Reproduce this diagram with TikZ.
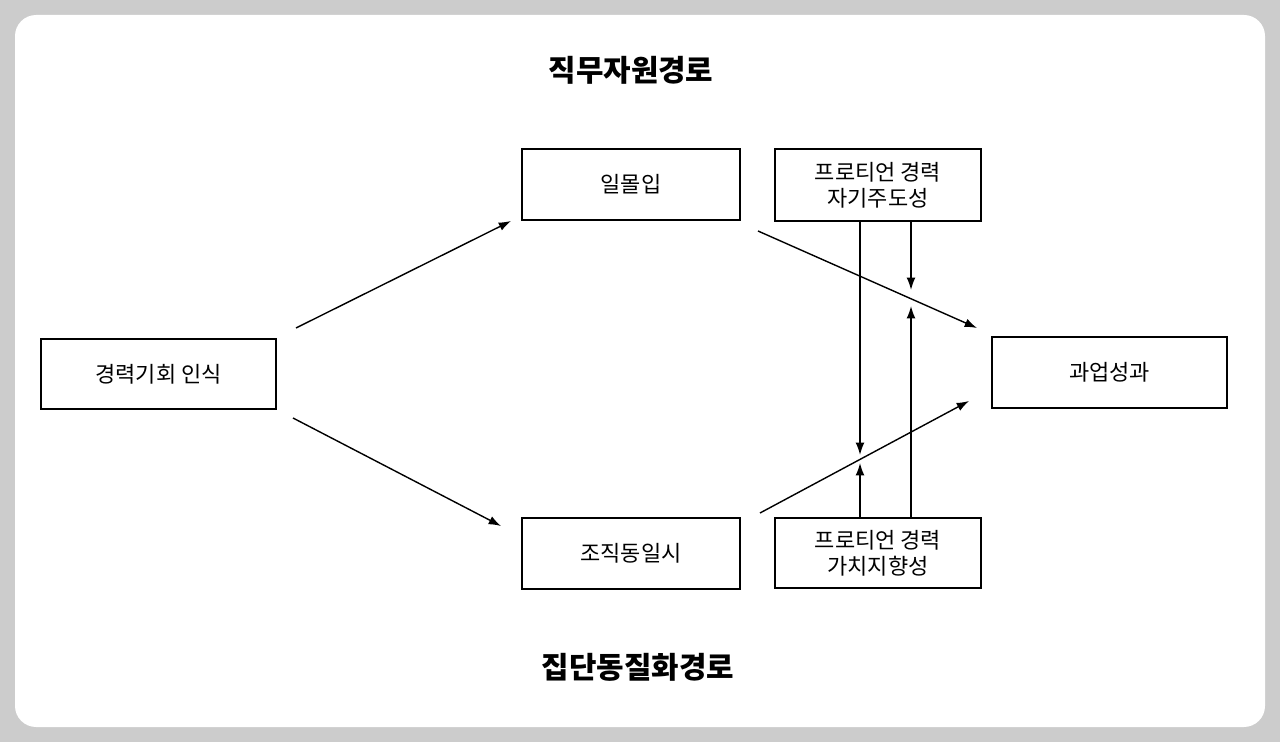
\documentclass[tikz,border=0pt]{standalone}
\usepackage{fontspec}
\setmainfont{Noto Sans CJK KR}
\usetikzlibrary{arrows.meta}
\begin{document}
\begin{tikzpicture}[x=0.02cm,y=-0.02cm,
    box/.style={draw,line width=1pt,inner sep=0pt,align=center,font=\fontsize{12.5}{15}\selectfont},
    arr/.style={-{Latex[length=7pt,width=5pt]},line width=0.8pt},
    title/.style={font=\fontsize{17}{20}\selectfont\bfseries}]
    \fill[black!20] (0,0) rectangle (1280,742);
    \fill[white,rounded corners=12pt] (15,15) rectangle (1265,727);
    % boxes
    \node[box,minimum width=235*0.02cm,minimum height=70*0.02cm] (career) at (158.5,374) {경력기회 인식};
    \node[box,minimum width=218*0.02cm,minimum height=71*0.02cm] (work) at (631,184.5) {일몰입};
    \node[box,minimum width=218*0.02cm,minimum height=71*0.02cm] (org) at (631,553.5) {조직동일시};
    \node[box,minimum width=206*0.02cm,minimum height=72*0.02cm] (self) at (878,185) {프로티언 경력\\자기주도성};
    \node[box,minimum width=206*0.02cm,minimum height=70*0.02cm] (value) at (878,553) {프로티언 경력\\가치지향성};
    \node[box,minimum width=235*0.02cm,minimum height=71*0.02cm] (perf) at (1109.5,372.5) {과업성과};
    \node[title] (t1) at (631,70) {직무자원경로};
    \node[title] (t2) at (638,667) {집단동질화경로};
    % path end points
    \coordinate (a1) at (296,328); \coordinate (a2) at (511,221);
    \coordinate (b1) at (293,418); \coordinate (b2) at (501,526);
    \coordinate (c1) at (758,231); \coordinate (c2) at (977,328);
    \coordinate (d1) at (760,513); \coordinate (d2) at (969,401);
    \coordinate (e1) at (860,221); \coordinate (e2) at (860,455);
    \coordinate (f1) at (911,221); \coordinate (f2) at (911,290);
    \coordinate (g1) at (860,518); \coordinate (g2) at (860,463);
    \coordinate (h1) at (911,518); \coordinate (h2) at (911,306);
    \foreach \s/\t in {a1/a2,b1/b2,c1/c2,d1/d2,e1/e2,f1/f2,g1/g2,h1/h2}
        \draw[arr] (\s) -- (\t);
\end{tikzpicture}
\end{document}
